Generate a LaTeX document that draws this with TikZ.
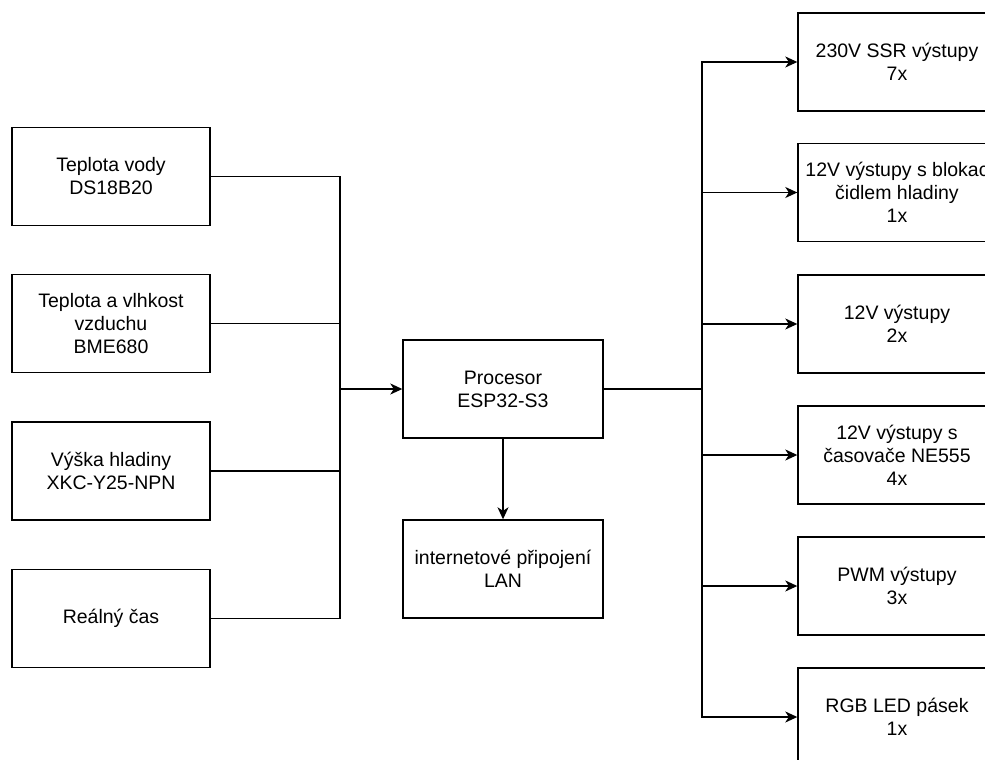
\documentclass[tikz,border=0pt]{standalone}
\usepackage{fontspec}
\setmainfont{Liberation Sans}
\usetikzlibrary{arrows.meta}
\tikzset{
  blok/.style={draw, line width=1.4pt, minimum width=198pt, minimum height=98pt,
    inner sep=0pt, align=center, font=\fontsize{19.5}{23}\selectfont},
  spoj/.style={line width=1.4pt},
  sipka/.style={spoj, -{Stealth[length=12pt,width=11pt,inset=3.5pt]}}
}
\begin{document}
\begin{tikzpicture}[x=1pt,y=-1pt]
\fill[white] (0,0) rectangle (985,760);
\useasboundingbox (0,0) rectangle (985,760);

\node[blok] (voda) at (111,176.5) {Teplota vody\\DS18B20};
\node[blok] (vzduch) at (111,323.5) {Teplota a vlhkost\\vzduchu\\BME680};
\node[blok] (hladina) at (111,471) {Výška hladiny\\XKC-Y25-NPN};
\node[blok] (cas) at (111,618.5) {Reálný čas};

\node[blok, minimum width=200pt] (cpu) at (503,389) {Procesor\\ESP32-S3};
\node[blok, minimum width=200pt] (lan) at (503,569) {internetové připojení\\LAN};

\node[blok] (ssr) at (897,62) {230V SSR výstupy\\7x};
\node[blok] (blok12) at (897,192.5) {12V výstupy s blokac\\čidlem hladiny\\1x};
\node[blok] (out12) at (897,324) {12V výstupy\\2x};
\node[blok] (ne555) at (897,455) {12V výstupy s\\časovače NE555\\4x};
\node[blok] (pwm) at (897,586) {PWM výstupy\\3x};
\node[blok] (rgb) at (897,717) {RGB LED pásek\\1x};

\coordinate (vstup) at (340,389);
\coordinate (vystup) at (702,389);

\draw[spoj] (voda.east) -| (vstup);
\draw[spoj] (cas.east) -| (vstup);
\draw[spoj] (vzduch.east) -- (vzduch.east -| vstup);
\draw[spoj] (hladina.east) -- (hladina.east -| vstup);
\draw[sipka] (vstup) -- (cpu.west);

\draw[sipka] (cpu.south) -- (lan.north);

\draw[spoj] (cpu.east) -- (vystup);
\foreach \n in {ssr,blok12,out12,ne555,pwm,rgb}
  \draw[sipka] (vystup) |- (\n.west);
\end{tikzpicture}
\end{document}
